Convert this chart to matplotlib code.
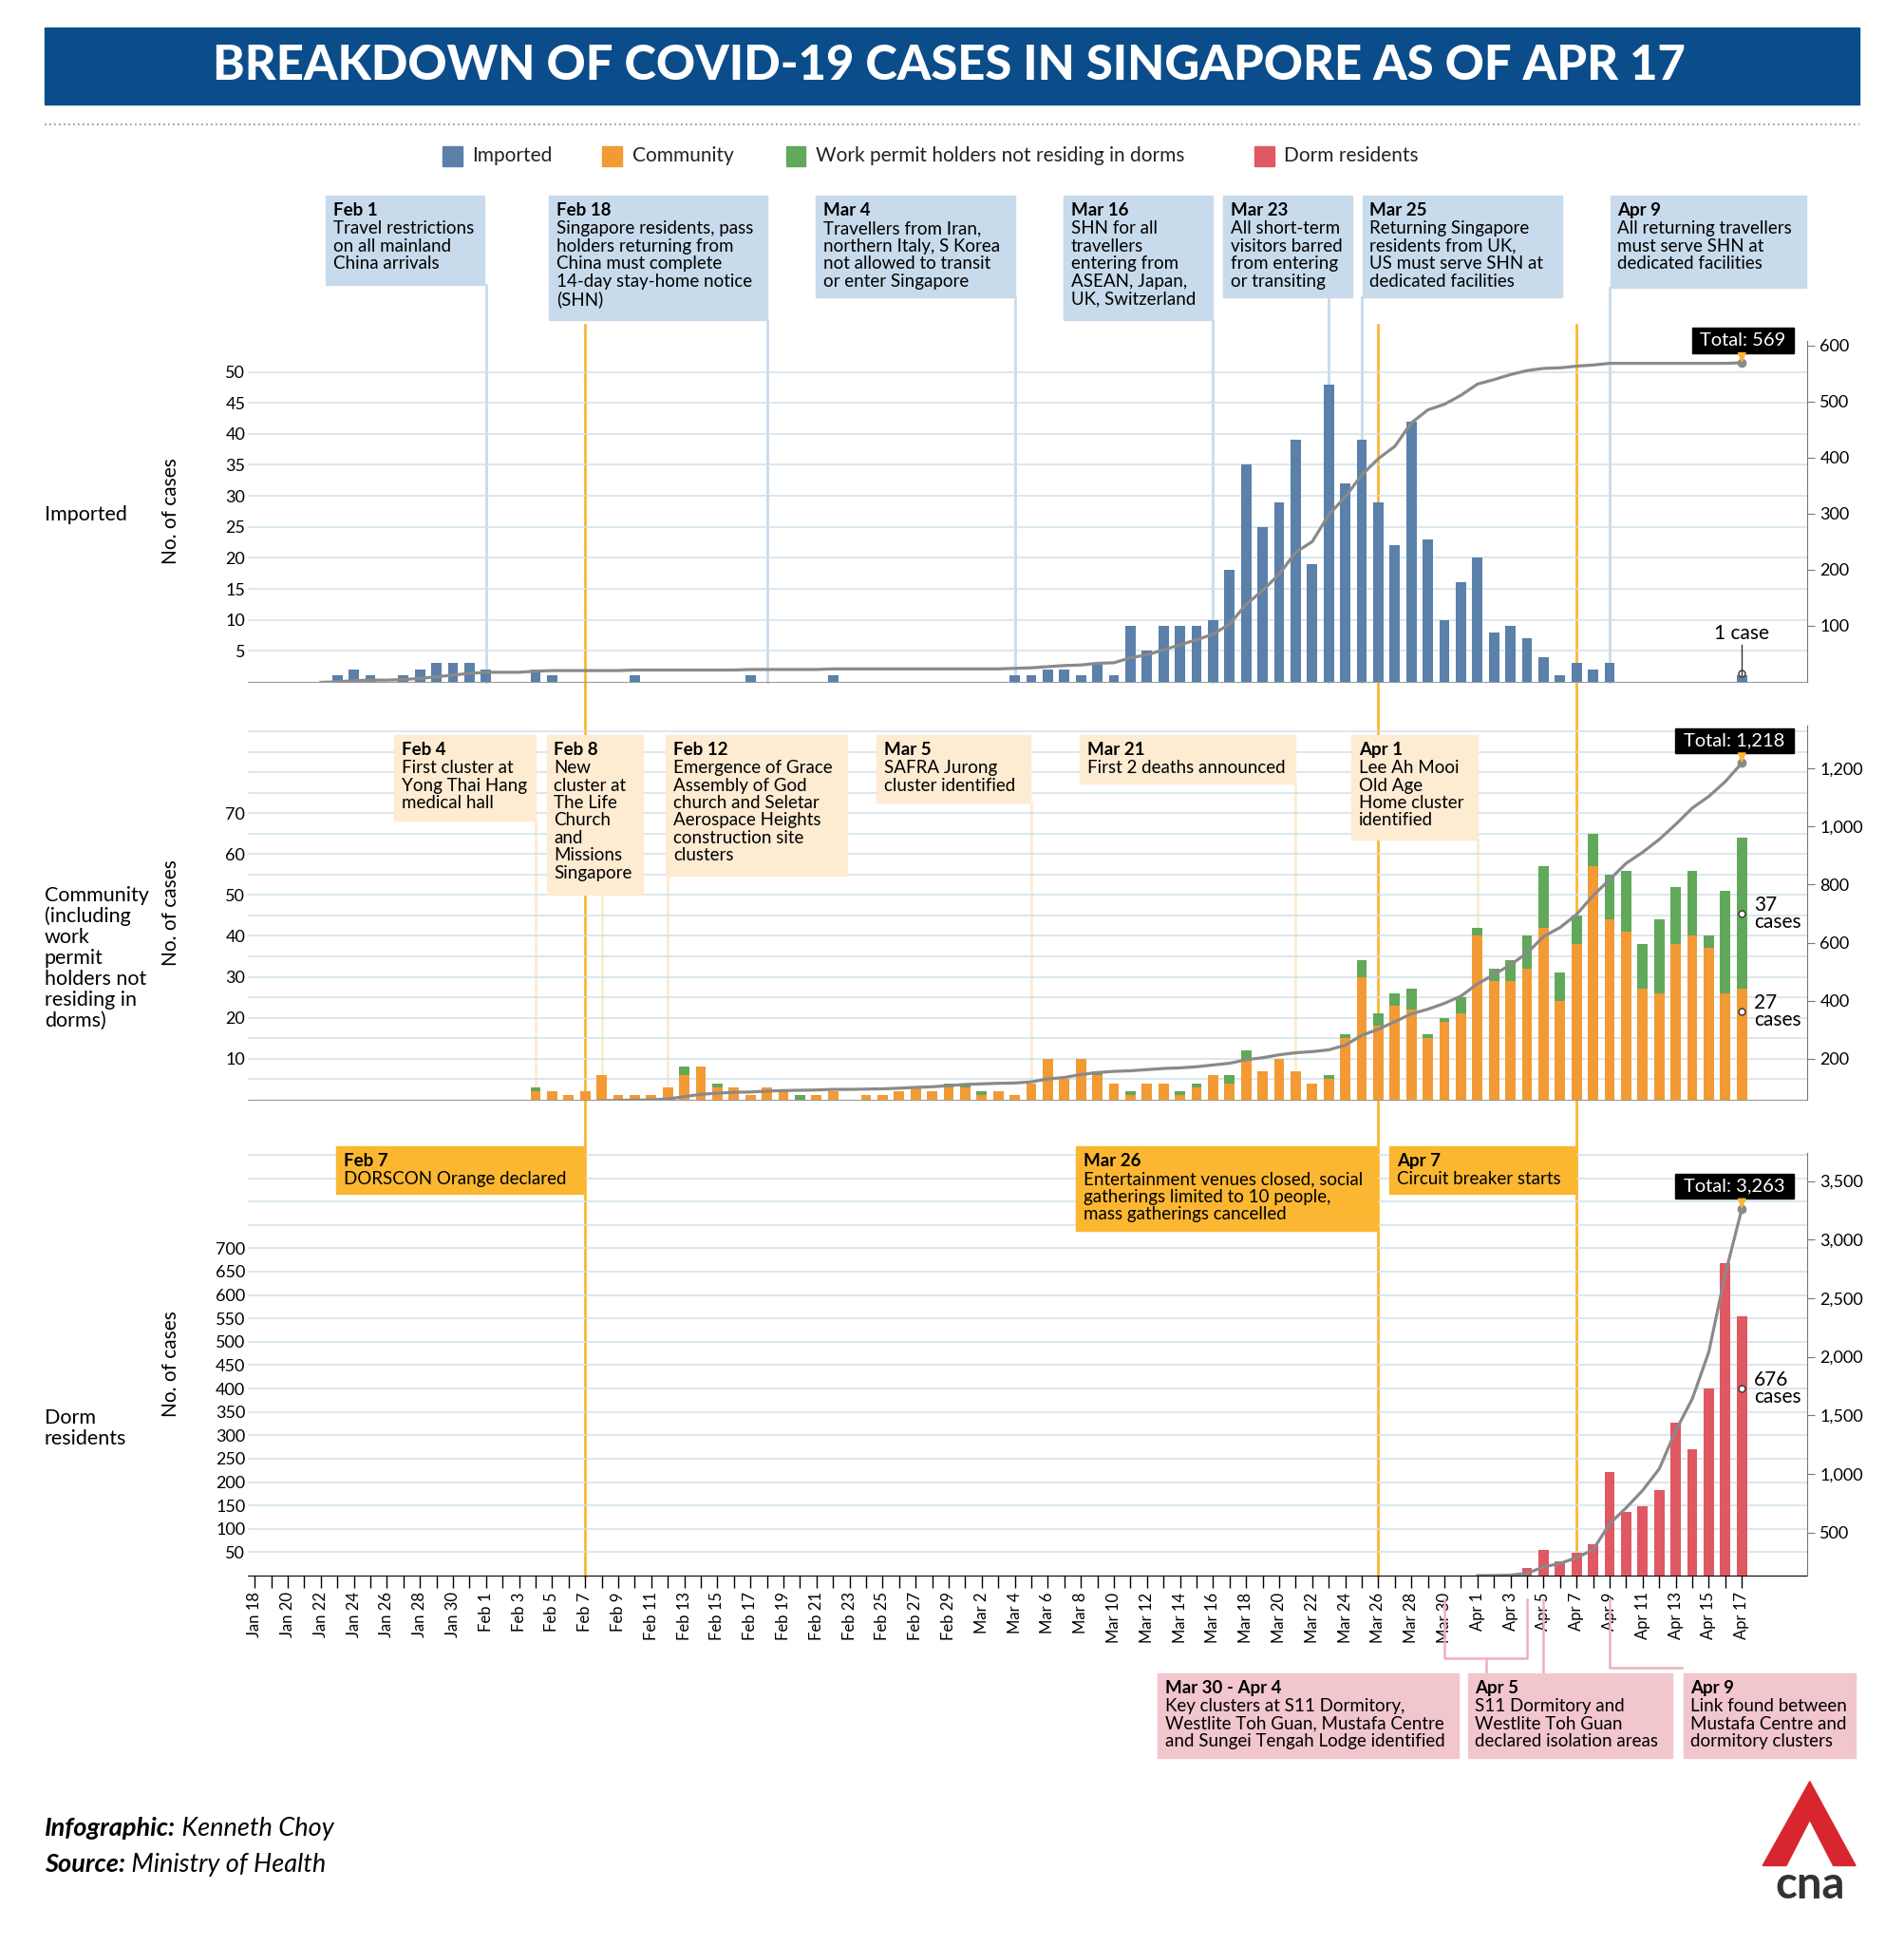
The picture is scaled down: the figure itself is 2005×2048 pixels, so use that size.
import numpy as np
import pandas as pd
import matplotlib
matplotlib.use("Agg")
import matplotlib.pyplot as plt
from matplotlib.patches import Rectangle, Polygon
from matplotlib.lines import Line2D

plt.rcParams['font.family'] = ['Lato', 'DejaVu Sans']

# ---------------- data ----------------
dates = pd.date_range("2020-01-18", "2020-04-17")
tick_labels = [d.strftime("%b ") + str(d.day) for d in dates]

imported = [0, 0, 0, 0, 0,
            1, 2, 1, 0, 1, 2, 3, 3, 3, 2,                 # Jan 23 - Feb 1
            0, 0, 2, 1, 0, 0, 0, 0, 1, 0, 0, 0, 0, 0, 0, 1, 0, 0, 0, 0, 1,  # Feb 2 - Feb 22
            0, 0, 0, 0, 0, 0, 0, 0, 0, 0, 1,              # Feb 23 - Mar 4
            1, 2, 2, 1, 3, 1, 9, 5, 9, 9, 9, 10, 18, 35, 25, 29, 39, 19, 48, 32, 39, 29, 22, 42, 23, 10, 16,
            20, 8, 9, 7, 4, 1, 3, 2, 3, 0, 0, 0, 0, 0, 0, 0, 1]

community = [0] * 17 + [
    2, 2, 1, 2, 6, 1, 1, 1, 3, 6, 8, 3, 3, 1, 3, 2, 0, 1, 2, 0, 1, 1, 2, 3, 2, 3,
    3, 1, 2, 1, 4, 10, 5, 10, 6, 4, 1, 4, 4, 1, 3, 6, 4, 10, 7, 10, 7, 4, 5, 15, 30, 18, 23, 22, 15, 19, 21,
    40, 29, 29, 32, 42, 24, 38, 57, 44, 41, 27, 26, 38, 40, 37, 26, 27]
workpermit = [0] * 17 + [
    1, 0, 0, 0, 0, 0, 0, 0, 0, 2, 0, 1, 0, 0, 0, 0, 1, 0, 0, 0, 0, 0, 0, 0, 0, 1,
    1, 1, 0, 0, 0, 0, 0, 0, 1, 0, 1, 0, 0, 1, 1, 0, 2, 2, 0, 0, 0, 0, 1, 1, 4, 3, 3, 5, 1, 1, 4,
    2, 3, 5, 8, 15, 7, 7, 8, 11, 15, 11, 18, 14, 16, 3, 25, 37]
dorm = [0] * 75 + [1, 3, 16, 54, 30, 49, 68, 222, 136, 149, 183, 327, 271, 400, 668, 555]

total_imported = 569
total_community = 1218
total_dorm = 3263

days = np.arange(len(dates))
imported = np.array(imported); community = np.array(community)
workpermit = np.array(workpermit); dorm = np.array(dorm)

cum_imp = np.cumsum(imported) + (total_imported - imported.sum())
comm_all = community + workpermit
cum_comm = np.cumsum(comm_all) + (total_community - comm_all.sum())
cum_dorm = np.cumsum(dorm) + (total_dorm - dorm.sum())

# ---------------- colours ----------------
C_IMP = "#5b80aa"; C_COM = "#f39a34"; C_WP = "#62a85b"; C_DORM = "#e05862"
C_LINE = "#8a8a8a"; C_GRID = "#cfe2e8"; C_TITLE = "#0b4d8a"
C_ORANGE = "#fbb731"; C_BLUEBOX = "#c8dbec"; C_CREAM = "#fdebd2"; C_PINK = "#f2c6cd"

W, H = 1536.0, 1569.0
fig = plt.figure(figsize=(20.05, 20.48), dpi=100)
fig.patch.set_facecolor("white")
def fx(x): return x / W
def fy(y): return 1 - y / H

AX_L, AX_R = 200, 1458
D0, DPX = 205.5, 13.33
XLIM = ((AX_L - D0) / DPX, (AX_R - D0) / DPX)

def add_ax(y0, y1):
    ax = fig.add_axes([fx(AX_L), fy(y1), (AX_R - AX_L) / W, (y1 - y0) / H])
    ax.patch.set_visible(False)
    return ax

# ---------------- title ----------------
fig.add_artist(Rectangle((fx(36), fy(84)), (1500 - 36) / W, 62 / H, color=C_TITLE, transform=fig.transFigure))
fig.text(fx(766), fy(53), "BREAKDOWN OF COVID-19 CASES IN SINGAPORE AS OF APR 17", color="white",
         fontsize=36.5, fontweight="black", ha="center", va="center")
fig.add_artist(Line2D([fx(36), fx(1500)], [fy(100), fy(100)], color="#888", lw=1.2, ls=(0, (1, 2)),
                      transform=fig.transFigure))

# legend
leg = [("Imported", C_IMP, 357), ("Community", C_COM, 486), ("Work permit holders not residing in dorms", C_WP, 634),
       ("Dorm residents", C_DORM, 1012)]
for lab, c, x in leg:
    fig.add_artist(Rectangle((fx(x), fy(134)), 16 / W, 16 / H, color=c, transform=fig.transFigure))
    fig.text(fx(x + 24), fy(126), lab, fontsize=15, va="center", color="#222")

# ---------------- axes ----------------
ax1 = add_ax(275, 550)
ax2 = add_ax(585, 887)
ax3 = add_ax(930, 1271)

bw = 0.62
ax1.bar(days, imported, width=bw, color=C_IMP, zorder=3)
ax2.bar(days, community, width=bw, color=C_COM, zorder=3)
ax2.bar(days, workpermit, bottom=community, width=bw, color=C_WP, zorder=3)
ax3.bar(days, dorm, width=bw, color=C_DORM, zorder=3)

ax1.set_ylim(0, 55); ax2.set_ylim(0, 91.5); ax3.set_ylim(0, 904)
ax1.set_yticks(np.arange(5, 55, 5)); ax2.set_yticks(np.arange(10, 80, 10)); ax3.set_yticks(np.arange(50, 750, 50))
for ax, gstep, gmax in [(ax1, 5, 55), (ax2, 5, 91), (ax3, 50, 904)]:
    for g in np.arange(gstep, gmax, gstep):
        ax.axhline(g, color=C_GRID, lw=1.1, zorder=1)
    ax.set_xlim(*XLIM)
    for s in ["left", "top", "right"]:
        ax.spines[s].set_visible(False)
    ax.tick_params(axis="y", length=0, labelsize=13, pad=2)
    ax.set_ylabel("No. of cases", fontsize=15)
    ax.yaxis.set_label_coords(-0.043, 0.5)
for ax in (ax1, ax2):
    ax.set_xticks([])
    ax.spines["bottom"].set_color("#999")
ax3.spines["bottom"].set_color("black")
ax3.set_xticks(days[::2])
ax3.set_xticklabels(tick_labels[::2], rotation=90, fontsize=12)
ax3.set_xticks(days, minor=True)
ax3.tick_params(axis="x", which="both", length=9, width=1, direction="out")

# right axes with cumulative lines
rights = []
for ax, cum, lim, ticks, start in [(ax1, cum_imp, (0, 608), np.arange(100, 700, 100), 4),
                                   (ax2, cum_comm, (60, 1348), np.arange(200, 1400, 200), 17),
                                   (ax3, cum_dorm, (131, 3740), np.arange(500, 4000, 500), 74)]:
    r = ax.twinx()
    r.patch.set_visible(False)
    r.plot(days[start:], cum[start:], color=C_LINE, lw=2.3, zorder=4)
    r.plot(days[-1], cum[-1], "o", color=C_LINE, ms=6, zorder=5)
    r.set_ylim(*lim)
    r.set_yticks(ticks)
    r.set_yticklabels([f"{t:,}" for t in ticks])
    r.tick_params(axis="y", labelsize=13, length=6, color="#777")
    for s in ["left", "top", "bottom"]:
        r.spines[s].set_visible(False)
    r.spines["right"].set_color("#777")
    r.set_xlim(*XLIM)
    rights.append(r)

def to_fig(ax, d, v):
    p = ax.transData.transform((d, v))
    return fig.transFigure.inverted().transform(p)

# row labels
fig.text(fx(36), fy(415), "Imported", fontsize=15.5, va="center")
fig.text(fx(36), fy(773), "Community\n(including\nwork\npermit\nholders not\nresiding in\ndorms)", fontsize=15.5,
         va="center", linespacing=1.12)
fig.text(fx(36), fy(1152), "Dorm\nresidents", fontsize=15.5, va="center", linespacing=1.12)

# ---------------- event boxes ----------------
def box(x0, y0, x1, y1, color, date, body, fs=13.5):
    fig.add_artist(Rectangle((fx(x0), fy(y1)), (x1 - x0) / W, (y1 - y0) / H, color=color,
                             transform=fig.transFigure, zorder=6))
    fig.text(fx(x0 + 6), fy(y0 + 5), date, fontsize=fs, fontweight="bold", va="top", zorder=7)
    if body:
        fig.text(fx(x0 + 6), fy(y0 + 20), body, fontsize=fs, va="top", linespacing=1.1, zorder=7)

def vline(ax, d, ytop_px, vbottom, color, lw=2):
    x, yb = to_fig(ax, d, vbottom)
    fig.add_artist(Line2D([x, x], [fy(ytop_px), yb], color=color, lw=lw, transform=fig.transFigure, zorder=-1))

imp_events = [(263, 391, 230, "Feb 1", "Travel restrictions\non all mainland\nChina arrivals", 14),
              (443, 619, 258, "Feb 18", "Singapore residents, pass\nholders returning from\nChina must complete\n14-day stay-home notice\n(SHN)", 31),
              (658, 819, 240, "Mar 4", "Travellers from Iran,\nnorthern Italy, S Korea\nnot allowed to transit\nor enter Singapore", 46),
              (858, 978, 258, "Mar 16", "SHN for all\ntravellers\nentering from\nASEAN, Japan,\nUK, Switzerland", 58),
              (987, 1091, 240, "Mar 23", "All short-term\nvisitors barred\nfrom entering\nor transiting", 65),
              (1099, 1260, 240, "Mar 25", "Returning Singapore\nresidents from UK,\nUS must serve SHN at\ndedicated facilities", 67),
              (1299, 1457, 232, "Apr 9", "All returning travellers\nmust serve SHN at\ndedicated facilities", 82)]
for x0, x1, yb, d, t, day in imp_events:
    box(x0, 158, x1, yb, C_BLUEBOX, d, t)
    vline(ax1, day, yb, 0, C_BLUEBOX)

com_events = [(318, 432, 662, "Feb 4", "First cluster at\nYong Thai Hang\nmedical hall", 17),
              (441, 519, 722, "Feb 8", "New\ncluster at\nThe Life\nChurch\nand\nMissions\nSingapore", 21),
              (537, 683, 706, "Feb 12", "Emergence of Grace\nAssembly of God\nchurch and Seletar\nAerospace Heights\nconstruction site\nclusters", 25),
              (707, 831, 647, "Mar 5", "SAFRA Jurong\ncluster identified", 47),
              (871, 1045, 632, "Mar 21", "First 2 deaths announced", 63),
              (1090, 1192, 677, "Apr 1", "Lee Ah Mooi\nOld Age\nHome cluster\nidentified", 74)]
for x0, x1, yb, d, t, day in com_events:
    box(x0, 593, x1, yb, C_CREAM, d, t)
    vline(ax2, day, yb, comm_all[day] + 0.5, C_CREAM)

for day in (20, 68, 80):
    vline(ax3, day, 262, 0, C_ORANGE, lw=2)
box(271, 925, 471, 963, C_ORANGE, "Feb 7", "DORSCON Orange declared")
box(868, 925, 1111, 993, C_ORANGE, "Mar 26", "Entertainment venues closed, social\ngatherings limited to 10 people,\nmass gatherings cancelled")
box(1121, 925, 1271, 963, C_ORANGE, "Apr 7", "Circuit breaker starts")

box(934, 1350, 1177, 1418, C_PINK, "Mar 30 - Apr 4", "Key clusters at S11 Dormitory,\nWestlite Toh Guan, Mustafa Centre\nand Sungei Tengah Lodge identified")
box(1184, 1350, 1349, 1418, C_PINK, "Apr 5", "S11 Dormitory and\nWestlite Toh Guan\ndeclared isolation areas")
box(1358, 1350, 1497, 1418, C_PINK, "Apr 9", "Link found between\nMustafa Centre and\ndormitory clusters")
def pline(xs, ys):
    fig.add_artist(Line2D([fx(x) for x in xs], [fy(y) for y in ys], color="#eeb0ba", lw=1.8,
                          transform=fig.transFigure))
xa = to_fig(ax3, 72, 0)[0] * W; xb = to_fig(ax3, 77, 0)[0] * W
pline([xa, xa, xb, xb], [1290, 1338, 1338, 1290]); pline([(xa + xb) / 2, (xa + xb) / 2], [1338, 1350])
x5 = to_fig(ax3, 78, 0)[0] * W; pline([x5, x5], [1290, 1350])
x9 = to_fig(ax3, 82, 0)[0] * W; pline([x9, x9, 1357], [1290, 1345, 1345])

# totals
def total_label(r, val, text, w):
    x, y = to_fig(r, 90, val)
    X = x * W; Y = (1 - y) * H
    fig.add_artist(Rectangle((fx(X - w + 42), fy(Y - 8)), w / W, 20 / H, color="black", transform=fig.transFigure, zorder=8))
    fig.text(fx(X - w / 2 + 42), fy(Y - 18), text, color="white", fontsize=14.5, ha="center", va="center", zorder=9)
    fig.add_artist(Polygon([(fx(X - 3), fy(Y - 8)), (fx(X + 3), fy(Y - 8)), (fx(X), fy(Y - 1))], color=C_ORANGE,
                           transform=fig.transFigure, zorder=9))
total_label(rights[0], cum_imp[-1], "Total: 569", 82)
total_label(rights[1], cum_comm[-1], "Total: 1,218", 96)
total_label(rights[2], cum_dorm[-1], "Total: 3,263", 96)

# case callouts
x, y = to_fig(ax1, 90, 1); X = x * W
fig.add_artist(Line2D([x, x], [y, fy(520)], color="#333", lw=1, transform=fig.transFigure, zorder=8))
ax1.plot(90, 1.3, "o", mfc="white", mec="#333", ms=5, zorder=9)
fig.text(fx(X), fy(511), "1 case", fontsize=15, ha="center", va="center")
for ax, v, txt in [(ax2, community[-1] + workpermit[-1] / 2, "37\ncases"),
                   (ax2, community[-1] / 2 + 8, "27\ncases"),
                   (ax3, 400, "676\ncases")]:
    ax.plot(90, v, "o", mfc="white", mec="#333", ms=5, zorder=9)
    x, y = to_fig(ax, 90, v)
    fig.text(x + 10 / W, y, txt, fontsize=15, va="center", linespacing=0.85)

# footer
fig.canvas.draw()
rend = fig.canvas.get_renderer()
for yy, b, n in [(1475, "Infographic:", " Kenneth Choy"), (1504, "Source:", " Ministry of Health")]:
    t = fig.text(fx(36), fy(yy), b, fontsize=19.5, fontweight="bold", style="italic", va="center")
    bb = t.get_window_extent(rend)
    x1 = fig.transFigure.inverted().transform((bb.x1, 0))[0]
    fig.text(x1, fy(yy), n, fontsize=19.5, style="italic", va="center")

# logo
fig.add_artist(Polygon([(fx(1460), fy(1437)), (fx(1497), fy(1505)), (fx(1479), fy(1505)), (fx(1460), fy(1468)),
                        (fx(1441), fy(1505)), (fx(1422), fy(1505))], color="#d7262f", transform=fig.transFigure))
fig.text(fx(1460), fy(1521), "cna", fontsize=34, fontweight="bold", ha="center", va="center", color="#333")

fig.savefig("out.png", dpi=100)
